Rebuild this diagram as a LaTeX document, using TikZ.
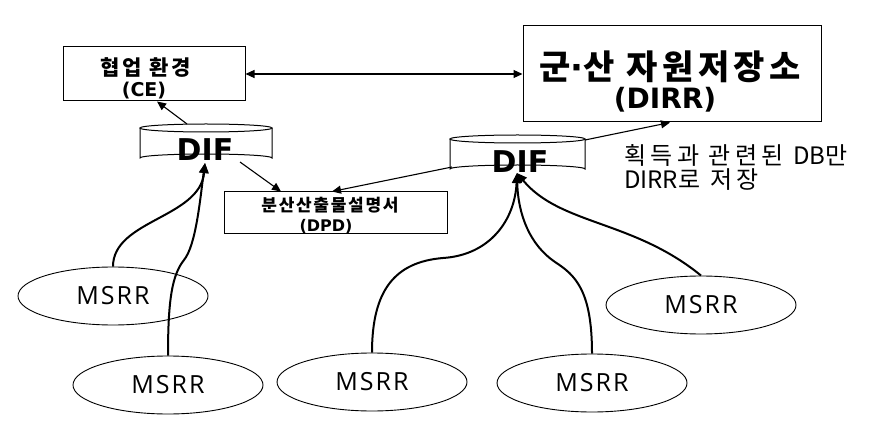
\documentclass[tikz,border=0pt]{standalone}
\usepackage{fontspec}
\setmainfont{Noto Sans CJK KR}
\newfontfamily\kr[LetterSpace=10]{Noto Sans CJK KR}
\newfontfamily\krwide[LetterSpace=13]{Noto Sans CJK KR}
\newfontfamily\krnote[LetterSpace=18]{Noto Sans CJK KR}
\newfontfamily\krplain{Noto Sans CJK KR}
\newfontfamily\difont{DejaVu Sans}
\newfontfamily\lat[LetterSpace=8]{Open Sans}
\usetikzlibrary{arrows.meta,shapes.geometric}
\tikzset{
  conn/.style={line width=1.1pt,-{Triangle[length=9pt,width=8pt]}},
  dconn/.style={line width=1.1pt,{Triangle[length=9pt,width=8pt]}-{Triangle[length=9pt,width=8pt]}},
  feed/.style={line width=2pt,-{Triangle[length=10pt,width=9pt]}},
  msrr/.style={ellipse,draw,line width=0.9pt,minimum width=190pt,minimum height=58pt,inner sep=0pt,font=\lat\fontsize{25}{28}\selectfont},
  boxn/.style={draw,line width=1pt,inner sep=0pt},
  txt/.style={inner sep=0pt},
  cyl/.style={line width=1pt},
  diftxt/.style={inner sep=0pt,font=\difont\bfseries\fontsize{30}{32}\selectfont},
}
\begin{document}
\begin{tikzpicture}[x=1pt,y=-1pt]
\useasboundingbox (0,0) rectangle (880,430);
% boxes
\node[boxn,minimum width=182pt,minimum height=54pt] (ce) at (154,74) {};
\node[txt,font=\krwide\bfseries\fontsize{21}{24}\selectfont] (ce1) at (146,68) {협업 환경};
\node[txt,font=\difont\bfseries\fontsize{19}{20}\selectfont] (ce2) at (144,91) {(CE)};
\node[boxn,minimum width=298pt,minimum height=96pt] (dirr) at (672,74) {};
\node[txt,font=\krwide\bfseries\fontsize{34}{38}\selectfont] (dirr1) at (670,67) {군{\difont\bfseries ·}산 자원저장소};
\node[txt,font=\difont\bfseries\fontsize{28}{30}\selectfont] (dirr2) at (665,100) {(DIRR)};
\node[boxn,minimum width=223pt,minimum height=42pt] (dpd) at (335.5,213) {};
\node[txt,font=\kr\bfseries\fontsize{17}{20}\selectfont] (dpd1) at (330,205) {분산산출물설명서};
\node[txt,font=\difont\bfseries\fontsize{16}{18}\selectfont] (dpd2) at (326,226) {(DPD)};
% cylinders
\draw[cyl,fill=white] (140,128) -- (140,158) arc[start angle=180,end angle=360,x radius=66,y radius=4] -- (272,128);
\draw[cyl] (206,128) ellipse[x radius=66,y radius=4];
\node[diftxt] (difl) at (205,150) {DIF};
\draw[cyl,fill=white] (450,139) -- (450,169) arc[start angle=180,end angle=360,x radius=67.5,y radius=4] -- (585,139);
\draw[cyl] (517.5,139) ellipse[x radius=67.5,y radius=4];
\node[diftxt] (difr) at (520,162) {DIF};
\coordinate (dltop) at (187,124);
\coordinate (dlbot) at (240,162);
\coordinate (dltip) at (205,163);
\coordinate (drleft) at (452,167);
\coordinate (drright) at (585,140);
\coordinate (drtip) at (517,173);
% note
\node[txt,font=\krnote\fontsize{24}{26}\selectfont,anchor=west] (note1) at (624,155) {획득과 관련된 {\krplain DB}만};
\node[txt,font=\krnote\fontsize{24}{26}\selectfont,anchor=west] (note2) at (624,180) {{\krplain DIRR}로 저장};
% MSRR
\node[msrr] (m1) at (113,296) {MSRR};
\node[msrr] (m2) at (168,385) {MSRR};
\node[msrr] (m3) at (372,382) {MSRR};
\node[msrr] (m4) at (592,383) {MSRR};
\node[msrr] (m5) at (701,305) {MSRR};
% connectors
\draw[dconn] (ce.east) -- (dirr.west |- ce.east);
\draw[conn] (dltop) -- (157,101.5);
\draw[conn] (dlbot) -- (281,191.5);
\draw[conn] (drleft) -- (332,191.5);
\draw[conn] (drright) -- (670,122.5);
% feeds
\draw[feed] (m1.north) .. controls (113,220) and (200,218) .. (dltip);
\draw[feed] (m2.north) .. controls (168,300) and (172,275) .. (184,260) .. controls (196,245) and (200,200) .. (dltip);
\draw[feed] (m3.north) .. controls (372,290) and (395,262) .. (443,258) .. controls (490,255) and (515,220) .. (drtip);
\draw[feed] (m4.north) .. controls (592,290) and (575,275) .. (555,262) .. controls (530,245) and (518,215) .. (drtip);
\draw[feed] (m5.north) .. controls (633,220) and (560,225) .. (drtip);
\end{tikzpicture}
\end{document}
